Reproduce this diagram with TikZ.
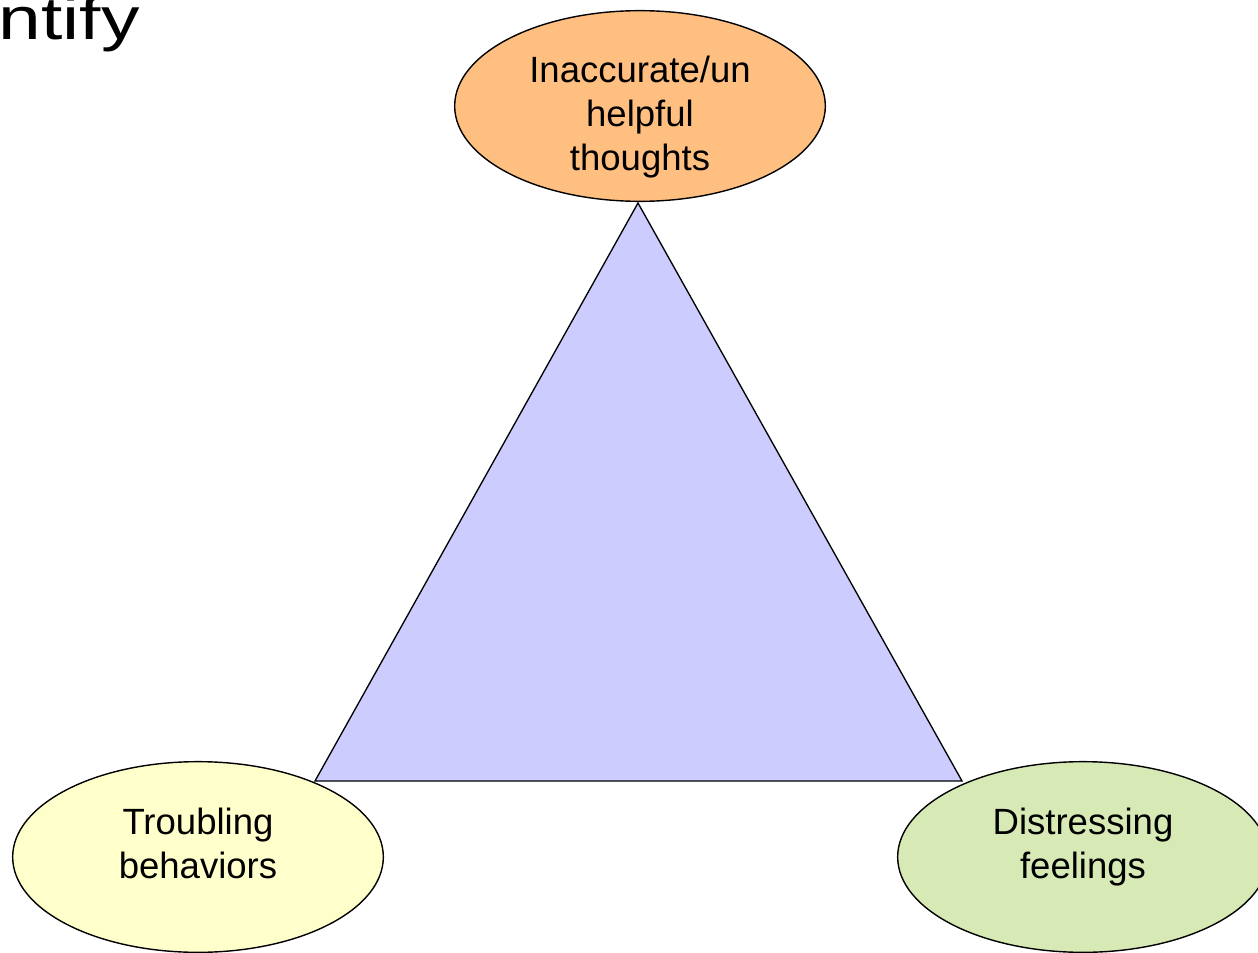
\documentclass[tikz,border=0pt]{standalone}
\usepackage{fontspec}
\setmainfont{Liberation Sans}
\usetikzlibrary{shapes.geometric}
\definecolor{thoughtfill}{HTML}{FFBF80}
\definecolor{behaviorfill}{HTML}{FFFFCC}
\definecolor{feelingfill}{HTML}{D7E9B4}
\definecolor{trianglefill}{HTML}{CCCCFF}
\begin{document}
\begin{tikzpicture}[x=0.75pt,y=-0.75pt,
  bubble/.style={ellipse, draw=black, line width=1.05pt, minimum width=278pt, minimum height=143pt, inner sep=0pt},
  lbl/.style={align=center, font=\fontsize{27.4}{33}\selectfont, inner sep=0pt}]
\useasboundingbox (0,0) rectangle (1258,953);

% title fragment at the top-left
\node (title) [anchor=base east, inner sep=0pt] at (140,40)
  {\fontsize{45}{45}\selectfont\scalebox{1.28}[1]{ntify}};

% triangle corners
\coordinate (apex) at (638,203);
\coordinate (left) at (315,781);
\coordinate (right) at (962,781);
\draw[fill=trianglefill, line width=1pt, line join=miter] (apex) -- (left) -- (right) -- cycle;

% the three ellipses
\node (thoughts) [bubble, fill=thoughtfill] at (640,106) {};
\node (behaviors) [bubble, fill=behaviorfill] at (198,857) {};
\node (feelings) [bubble, fill=feelingfill] at (1083,857) {};

% their labels
\node (thoughtstext) [lbl] at (640,117) {Inaccurate/un\\helpful\\thoughts};
\node (behaviorstext) [lbl] at (198,843) {Troubling\\behaviors};
\node (feelingstext) [lbl] at (1083,847) {Distressing\\feelings};
\end{tikzpicture}
\end{document}
